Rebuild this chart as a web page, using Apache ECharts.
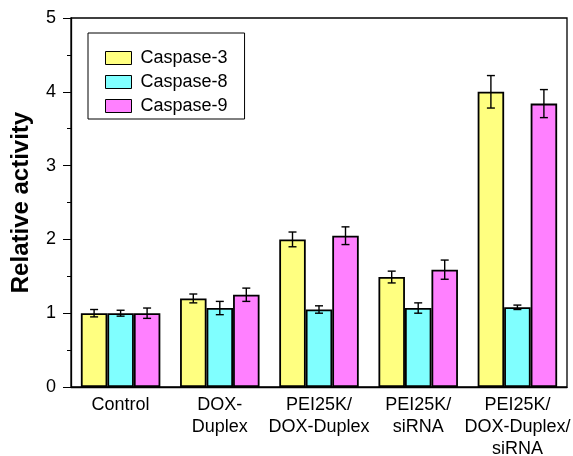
<!DOCTYPE html>
<html><head><meta charset="utf-8">
<script src="https://cdn.jsdelivr.net/npm/echarts@6/dist/echarts.min.js"></script>
<style>html,body{margin:0;padding:0;background:#fff}#c{width:573px;height:456px}</style>
</head><body><div id="c"></div>
<script>
const categories = ['Control', 'DOX-\nDuplex', 'PEI25K/\nDOX-Duplex', 'PEI25K/\nsiRNA', 'PEI25K/\nDOX-Duplex/\nsiRNA'];
const seriesNames = ['Caspase-3', 'Caspase-8', 'Caspase-9'];
const casp3 = [1.0, 1.2, 2.0, 1.49, 4.0];
const casp3Err = [0.05, 0.06, 0.1, 0.08, 0.22];
const casp8 = [1.0, 1.07, 1.05, 1.07, 1.08];
const casp8Err = [0.04, 0.09, 0.05, 0.07, 0.03];
const casp9 = [1.0, 1.25, 2.05, 1.59, 3.84];
const casp9Err = [0.07, 0.09, 0.12, 0.13, 0.19];
const colors = ['#FFFF80', '#80FFFF', '#FF80FF'];

const values = [casp3, casp8, casp9];
const errs = [casp3Err, casp8Err, casp9Err];
const FONT = 'Liberation Sans, Arial, sans-serif';
const BW = 26.5;

const chart = echarts.init(document.getElementById('c'), null, {renderer: 'canvas'});
const series = [];
values.forEach((v, i) => {
  series.push({
    name: seriesNames[i], type: 'bar', data: v, barWidth: BW, barGap: '0%',
    itemStyle: {color: colors[i], borderColor: '#000', borderWidth: 1.8},
    z: 2
  });
});
values.forEach((v, i) => {
  series.push({
    type: 'custom', name: 'err' + i, z: 5, silent: true,
    data: v.map((val, j) => [j, val - errs[i][j], val + errs[i][j]]),
    renderItem: function (params, api) {
      const x = api.value(0);
      const lo = api.coord([x, api.value(1)]);
      const hi = api.coord([x, api.value(2)]);
      const cx = lo[0] + (i - 1) * BW;
      const hw = 4;
      const st = {stroke: '#000', lineWidth: 1.4};
      return {type: 'group', children: [
        {type: 'line', shape: {x1: cx, y1: lo[1], x2: cx, y2: hi[1]}, style: st},
        {type: 'line', shape: {x1: cx - hw, y1: lo[1], x2: cx + hw, y2: lo[1]}, style: st},
        {type: 'line', shape: {x1: cx - hw, y1: hi[1], x2: cx + hw, y2: hi[1]}, style: st}
      ]};
    }
  });
});

chart.setOption({
  animation: false,
  backgroundColor: '#fff',
  textStyle: {fontFamily: FONT},
  grid: {left: 71, right: 6, top: 18, bottom: 69, show: true, borderColor: '#000', borderWidth: 1.3,
         containLabel: false, outerBoundsMode: 'none'},
  legend: {
    data: seriesNames, orient: 'vertical', left: 88, top: 33, icon: 'rect',
    borderColor: '#000', borderWidth: 1, padding: [16, 17, 4, 17],
    itemWidth: 26, itemHeight: 13, itemGap: 6,
    textStyle: {fontSize: 18, lineHeight: 18, color: '#000', fontFamily: FONT, padding: [0, 0, 0, 4]},
    itemStyle: {borderColor: '#000', borderWidth: 1}
  },
  xAxis: {
    type: 'category', data: categories,
    axisLine: {lineStyle: {color: '#000', width: 1.3}},
    axisTick: {show: false},
    axisLabel: {color: '#000', fontSize: 18, lineHeight: 22, margin: 7, interval: 0, fontFamily: FONT}
  },
  yAxis: {
    type: 'value', min: 0, max: 5, interval: 1,
    name: 'Relative activity', nameLocation: 'middle', nameGap: 38,
    nameTextStyle: {fontSize: 24, fontWeight: 'bold', color: '#000', fontFamily: FONT},
    axisLine: {show: true, lineStyle: {color: '#000', width: 1.3}},
    axisTick: {show: true, inside: false, length: 8, lineStyle: {color: '#000'}},
    minorTick: {show: true, splitNumber: 2, length: 4, lineStyle: {color: '#000'}},
    splitLine: {show: false},
    axisLabel: {color: '#000', fontSize: 18, margin: 15, fontFamily: FONT}
  },
  series: series
});
</script></body></html>
